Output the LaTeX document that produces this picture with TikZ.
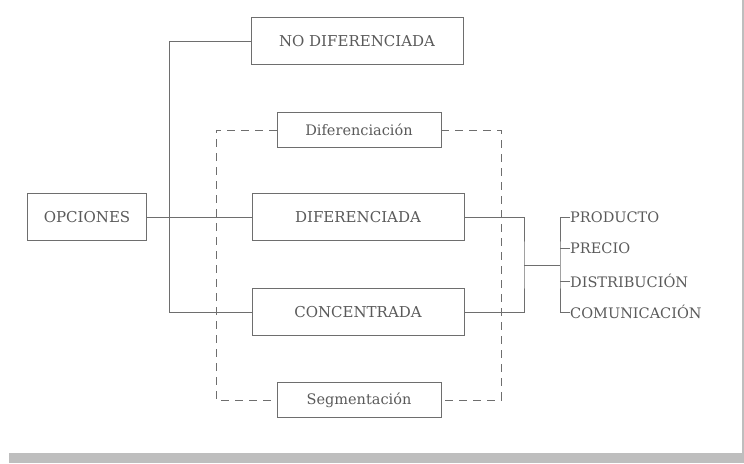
\documentclass[tikz,border=0pt]{standalone}
\usepackage{fontspec}
\setmainfont{DejaVu Serif}
\definecolor{linegray}{HTML}{6E6E6E}
\definecolor{textgray}{HTML}{5A5A5A}
\definecolor{bargray}{HTML}{BEBEBE}
\tikzset{
  box/.style={draw=linegray, line width=0.9pt, fill=white, text=textgray,
    minimum width=212, minimum height=47, inner sep=2pt,
    font=\fontsize{15}{17}\selectfont},
  smallbox/.style={box, minimum width=164, minimum height=35,
    font=\fontsize{14.5}{16}\selectfont},
  mix/.style={text=textgray, anchor=west, inner sep=0pt,
    font=\fontsize{14.5}{17}\selectfont},
  link/.style={draw=linegray, line width=0.9pt},
  frame/.style={draw=linegray, line width=0.9pt, dash pattern=on 8pt off 6pt}
}
\begin{document}
\begin{tikzpicture}[x=1pt,y=-1pt]
	\useasboundingbox (0,0) rectangle (744,463);
	\fill[bargray] (9,453) rectangle (744,463);
	\draw[bargray, line width=1.5pt] (743,0) -- (743,453);
	% estrategias
	\node[box, minimum width=119] (opc) at (87,217) {OPCIONES};
	\node[box] (nodif) at (357,41) {NO DIFERENCIADA};
	\node[box] (dif) at (358,217) {DIFERENCIADA};
	\node[box] (conc) at (358,312) {CONCENTRADA};
	\node[smallbox] (difer) at (359,130) {Diferenciación};
	\node[smallbox] (segm) at (359,400) {Segmentación};
	% marco discontinuo
	\coordinate (fnw) at (216,130);
	\coordinate (fse) at (501,400);
	\draw[frame] (difer.west) -- (fnw) |- (segm.west);
	\draw[frame] (difer.east) -| (fse) -- (segm.east);
	% enlaces
	\coordinate (trunk) at (169,41);
	\draw[link] (opc.east) -- (dif.west);
	\draw[link] (nodif.west) -- (trunk) |- (conc.west);
	\coordinate (merge) at (524,265);
	\draw[link] (dif.east) -| (merge) |- (conc.east);
	% variables del mix
	\node[mix] (prod) at (570,217) {PRODUCTO};
	\node[mix] (prec) at (570,248) {PRECIO};
	\node[mix] (dist) at (570,281) {DISTRIBUCIÓN};
	\node[mix] (comu) at (570,312) {COMUNICACIÓN};
	\coordinate (brack) at (560,265);
	\draw[link] (merge) -- (brack);
	\draw[link] (prod.west) -| (brack) |- (comu.west);
	\draw[link] (prec.west) -- (prec.west -| brack);
	\draw[link] (dist.west) -- (dist.west -| brack);
\end{tikzpicture}
\end{document}
